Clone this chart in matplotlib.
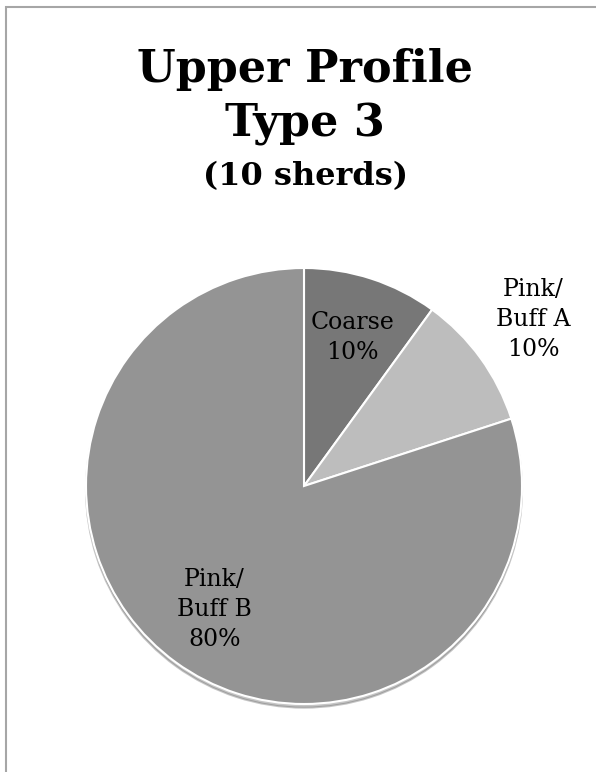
import numpy as np
import matplotlib.pyplot as plt
from matplotlib.patches import Rectangle

# data
categories = ['Coarse', 'Pink/\nBuff A', 'Pink/\nBuff B']
percents = [10, 10, 80]
colors = ['#777777', '#bdbdbd', '#949494']
label_dist = [0.716, 1.30, 0.70]

W, H = 596, 772
fig = plt.figure(figsize=(W / 100, H / 100), dpi=100)

# outer frame (chart area border, cut off at right/bottom)
fig.patches.append(Rectangle((6 / W, -0.1), 1, 1.1 - 7 / H, transform=fig.transFigure,
                             fill=False, edgecolor='#a6a6a6', linewidth=1.5))

serif = 'DejaVu Serif'
fig.text(0.512, 1 - 82 / H, 'Upper Profile', ha='center', va='baseline',
         fontsize=32, fontweight='bold', family=serif)
fig.text(0.512, 1 - 137 / H, 'Type 3', ha='center', va='baseline',
         fontsize=32, fontweight='bold', family=serif)
fig.text(0.512, 1 - 185 / H, '(10 sherds)', ha='center', va='baseline',
         fontsize=23, fontweight='bold', family=serif)

# pie axes: centre (304, 486) px, radius 218 px
R = 218
ax = fig.add_axes([(304 - R) / W, (H - 486 - R) / H, 2 * R / W, 2 * R / H])
wedges, _ = ax.pie(percents, colors=colors, startangle=90, counterclock=False,
                   wedgeprops=dict(edgecolor='white', linewidth=1.5),
                   shadow=dict(ox=0.0, oy=-0.012, shade=0.4, alpha=0.35))
ax.set_xlim(-1, 1)
ax.set_ylim(-1, 1)
ax.set_aspect('equal')

for w, cat, p, d in zip(wedges, categories, percents, label_dist):
    ang = np.deg2rad((w.theta1 + w.theta2) / 2)
    ax.text(d * np.cos(ang), d * np.sin(ang), f'{cat}\n{p}%', ha='center', va='center',
            fontsize=17, family=serif, linespacing=1.4)

plt.savefig('out.png', dpi=100)
